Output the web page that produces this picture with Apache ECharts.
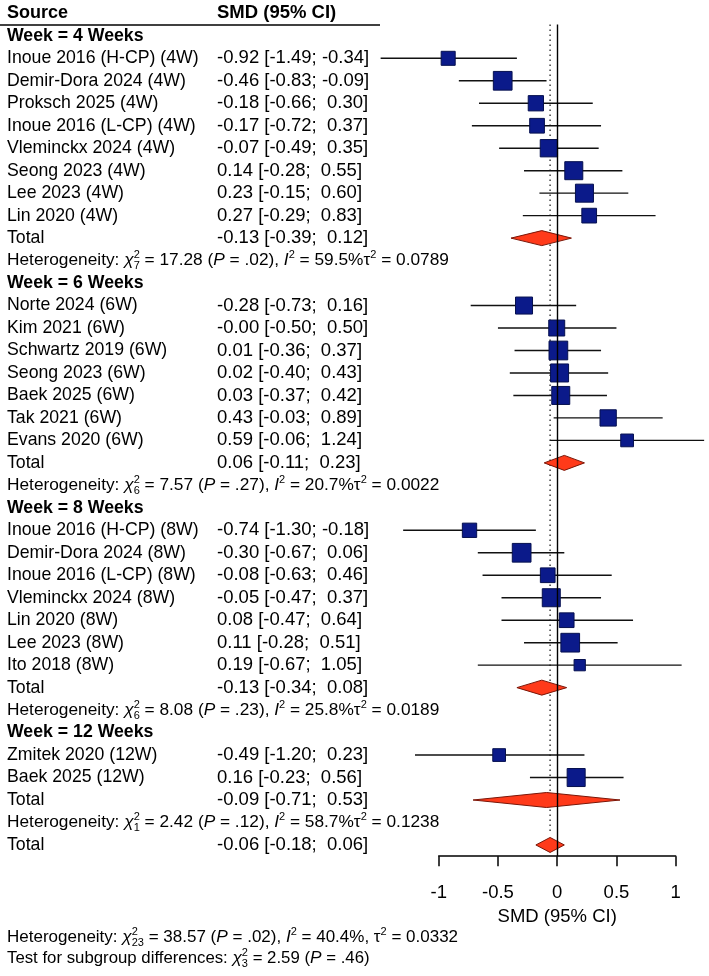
<!DOCTYPE html>
<html>
<head>
<meta charset="utf-8">
<script src="https://cdn.jsdelivr.net/npm/echarts@6/dist/echarts.min.js"></script>
<style>
html, body { margin: 0; padding: 0; background: #fff; }
#chart { width: 709px; height: 976px; }
</style>
</head>
<body>
<div id="chart"></div>
<script>
var groupTitles = ['Week = 4 Weeks', 'Week = 6 Weeks', 'Week = 8 Weeks', 'Week = 12 Weeks'];

var studies4 = ['Inoue 2016 (H-CP) (4W)', 'Demir-Dora 2024 (4W)', 'Proksch 2025 (4W)', 'Inoue 2016 (L-CP) (4W)',
  'Vleminckx 2024 (4W)', 'Seong 2023 (4W)', 'Lee 2023 (4W)', 'Lin 2020 (4W)'];
var smd4 = [-0.92, -0.46, -0.18, -0.17, -0.07, 0.14, 0.23, 0.27];
var lower4 = [-1.49, -0.83, -0.66, -0.72, -0.49, -0.28, -0.15, -0.29];
var upper4 = [-0.34, -0.09, 0.30, 0.37, 0.35, 0.55, 0.60, 0.83];
var weight4 = [9.1, 16.2, 10.8, 10.0, 13.9, 15.0, 15.0, 10.0];

var studies6 = ['Norte 2024 (6W)', 'Kim 2021 (6W)', 'Schwartz 2019 (6W)', 'Seong 2023 (6W)',
  'Baek 2025 (6W)', 'Tak 2021 (6W)', 'Evans 2020 (6W)'];
var smd6 = [-0.28, -0.004, 0.01, 0.02, 0.03, 0.43, 0.59];
var lower6 = [-0.73, -0.50, -0.36, -0.40, -0.37, -0.03, -0.06];
var upper6 = [0.16, 0.50, 0.37, 0.43, 0.42, 0.89, 1.24];
var weight6 = [13.4, 11.8, 16.2, 15.0, 15.0, 12.3, 7.5];

var studies8 = ['Inoue 2016 (H-CP) (8W)', 'Demir-Dora 2024 (8W)', 'Inoue 2016 (L-CP) (8W)', 'Vleminckx 2024 (8W)',
  'Lin 2020 (8W)', 'Lee 2023 (8W)', 'Ito 2018 (8W)'];
var smd8 = [-0.74, -0.30, -0.08, -0.05, 0.08, 0.11, 0.19];
var lower8 = [-1.30, -0.67, -0.63, -0.47, -0.47, -0.28, -0.67];
var upper8 = [-0.18, 0.06, 0.46, 0.37, 0.64, 0.51, 1.05];
var weight8 = [9.5, 16.2, 10.0, 15.0, 10.0, 16.2, 5.9];

var studies12 = ['Zmitek 2020 (12W)', 'Baek 2025 (12W)'];
var smd12 = [-0.49, 0.16];
var lower12 = [-1.20, -0.23];
var upper12 = [0.23, 0.56];
var weight12 = [7.5, 15.0];

var totalSmd = [-0.13, 0.06, -0.13, -0.09];
var totalLower = [-0.39, -0.11, -0.34, -0.71];
var totalUpper = [0.12, 0.23, 0.08, 0.53];

var hetDf = [7, 6, 6, 1];
var hetChi = ['17.28', '7.57', '8.08', '2.42'];
var hetP = ['.02', '.27', '.23', '.12'];
var hetI2 = ['59.5', '20.7', '25.8', '58.7'];
var hetTau = ['0.0789', '0.0022', '0.0189', '0.1238'];

var overallSmd = [-0.06, -0.18, 0.06]; // estimate, lower, upper
var overallHet = ['23', '38.57', '.02', '40.4', '0.0332'];
var subgroupTest = ['3', '2.59', '.46'];

var FONT = '"Liberation Sans", Arial, Helvetica, sans-serif';

function smdText(e, l, h) {
  return e.toFixed(2) + ' [' + l.toFixed(2) + ';' + (h < 0 ? ' ' : '  ') + h.toFixed(2) + ']';
}
function hetText(df, chi, p, i2, tau, comma) {
  return 'Heterogeneity: {i|\u03c7}{sup|2}{sub|' + df + '} = ' + chi + ' ({i|P} = ' + p + '), {i|I}{sup2|2} = ' +
    i2 + '%' + (comma ? ', ' : '') + '\u03c4{sup2|2} = ' + tau;
}

var groups = [
  [studies4, smd4, lower4, upper4, weight4],
  [studies6, smd6, lower6, upper6, weight6],
  [studies8, smd8, lower8, upper8, weight8],
  [studies12, smd12, lower12, upper12, weight12]
];

var rowLabels = [], boxData = [], ciData = [], diamondData = [];
groups.forEach(function (g, gi) {
  rowLabels.push('{b|' + groupTitles[gi] + '}');
  g[0].forEach(function (name, i) {
    var r = rowLabels.length;
    rowLabels.push('{n|' + name + '}{s|' + smdText(g[1][i], g[2][i], g[3][i]) + '}');
    boxData.push([g[1][i], r, g[4][i]]);
    ciData.push([g[2][i], g[3][i], r]);
  });
  diamondData.push([totalSmd[gi], totalLower[gi], totalUpper[gi], rowLabels.length]);
  rowLabels.push('{n|Total}{s|' + smdText(totalSmd[gi], totalLower[gi], totalUpper[gi]) + '}');
  rowLabels.push(hetText(hetDf[gi], hetChi[gi], hetP[gi], hetI2[gi], hetTau[gi], false));
});
var lastHetRow = rowLabels.length - 1;
diamondData.push([overallSmd[0], overallSmd[1], overallSmd[2], rowLabels.length]);
rowLabels.push('{n|Total}{s|' + smdText(overallSmd[0], overallSmd[1], overallSmd[2]) + '}');

var rich = {
  n: { width: 210, fontSize: 17.7, fontFamily: FONT, color: '#000' },
  s: { fontSize: 18.5, fontFamily: FONT, color: '#000' },
  b: { fontSize: 17.7, fontWeight: 'bold', fontFamily: FONT, color: '#000' },
  i: { fontSize: 17.3, fontStyle: 'italic', fontFamily: FONT, color: '#000' },
  sup: { fontSize: 11, lineHeight: 11, verticalAlign: 'top', width: 0, fontFamily: FONT, color: '#000' },
  sub: { fontSize: 11, lineHeight: 11, verticalAlign: 'bottom', fontFamily: FONT, color: '#000' },
  sup2: { fontSize: 11, lineHeight: 11, verticalAlign: 'top', fontFamily: FONT, color: '#000' },
  hb: { width: 210, fontSize: 18, fontWeight: 'bold', fontFamily: FONT, color: '#000' },
  hs: { fontSize: 18.5, fontWeight: 'bold', fontFamily: FONT, color: '#000' }
};

var gridLeft = 438.7;

var chart = echarts.init(document.getElementById('chart'));
var option = {
  backgroundColor: '#fff',
  animation: false,
  title: [
    {
      text: '{hb|Source}{hs|SMD (95% CI)}',
      left: 7, top: 2, padding: 0,
      textStyle: { rich: rich, lineHeight: 22 }
    },
    {
      text: 'Heterogeneity: {i|\u03c7}{sup|2}{sub|' + overallHet[0] + '} = ' + overallHet[1] + ' ({i|P} = ' + overallHet[2] +
        '), {i|I}{sup2|2} = ' + overallHet[3] + '%, \u03c4{sup2|2} = ' + overallHet[4],
      left: 7, top: 926, padding: 0,
      textStyle: { rich: rich, fontSize: 17, fontWeight: 'normal', fontFamily: FONT, color: '#000', lineHeight: 22 }
    },
    {
      text: 'Test for subgroup differences: {i|\u03c7}{sup|2}{sub|' + subgroupTest[0] + '} = ' + subgroupTest[1] +
        ' ({i|P} = ' + subgroupTest[2] + ')',
      left: 7, top: 947, padding: 0,
      textStyle: { rich: rich, fontSize: 16.8, fontWeight: 'normal', fontFamily: FONT, color: '#000', lineHeight: 22 }
    }
  ],
  graphic: [
    { type: 'line', shape: { x1: 0, y1: 25, x2: 380, y2: 25 }, style: { stroke: '#000', lineWidth: 1.5 } }
  ],
  grid: { left: gridLeft, right: 33.3, top: 24.6, bottom: 119.8 },
  xAxis: {
    type: 'value', min: -1, max: 1, interval: 0.5,
    name: 'SMD (95% CI)', nameLocation: 'middle', nameGap: 50,
    nameTextStyle: { fontSize: 18.5, fontFamily: FONT, color: '#000' },
    axisLine: { show: true, onZero: false, lineStyle: { color: '#000', width: 1.5 } },
    axisTick: { show: true, length: 10, lineStyle: { color: '#000', width: 1.5 } },
    axisLabel: { fontSize: 18.5, fontFamily: FONT, color: '#000', margin: 27 },
    splitLine: { show: false }
  },
  yAxis: {
    type: 'category', inverse: true, data: rowLabels,
    axisLine: { show: false }, axisTick: { show: false }, splitLine: { show: false },
    axisLabel: {
      interval: 0, align: 'left', margin: gridLeft - 7,
      fontSize: 17.3, fontFamily: FONT, color: '#000', lineHeight: 22, rich: rich
    }
  },
  series: [
    {
      name: 'overall', type: 'custom', clip: false, z: 1, silent: true,
      data: [[overallSmd[0], 0, lastHetRow]],
      renderItem: function (params, api) {
        var band = api.size([0, 1])[1];
        var top = api.coord([api.value(0), api.value(1)]);
        var bot = api.coord([api.value(0), api.value(2)]);
        return {
          type: 'line',
          shape: { x1: top[0], y1: top[1] - band / 2, x2: bot[0], y2: bot[1] + band / 2 },
          style: { stroke: '#333', lineWidth: 1.4, lineDash: [1.5, 3.5] }
        };
      }
    },
    {
      name: 'ci', type: 'custom', clip: false, z: 2, silent: true,
      data: ciData,
      renderItem: function (params, api) {
        var a = api.coord([api.value(0), api.value(2)]);
        var b = api.coord([api.value(1), api.value(2)]);
        return {
          type: 'line',
          shape: { x1: a[0], y1: a[1], x2: b[0], y2: b[1] },
          style: { stroke: '#111', lineWidth: 1.4 }
        };
      },
      markLine: {
        silent: true, symbol: 'none', label: { show: false },
        lineStyle: { color: '#000', type: 'solid', width: 1.4 },
        data: [{ xAxis: 0 }]
      }
    },
    {
      name: 'study', type: 'scatter', clip: false, z: 3, silent: true,
      symbol: 'rect',
      symbolSize: function (v) { return 4.65 * Math.sqrt(v[2]); },
      itemStyle: { color: '#0b1a8a', borderColor: '#06104f', borderWidth: 1, opacity: 1 },
      data: boxData
    },
    {
      name: 'total', type: 'custom', clip: false, z: 4, silent: true,
      data: diamondData,
      renderItem: function (params, api) {
        var c = api.coord([api.value(0), api.value(3)]);
        var l = api.coord([api.value(1), api.value(3)]);
        var h = api.coord([api.value(2), api.value(3)]);
        return {
          type: 'polygon',
          shape: { points: [[l[0], c[1]], [c[0], c[1] - 7.5], [h[0], c[1]], [c[0], c[1] + 7.5]] },
          style: { fill: '#ff3a1a', stroke: '#7a1608', lineWidth: 1 }
        };
      }
    }
  ]
};
chart.setOption(option);
</script>
</body>
</html>
